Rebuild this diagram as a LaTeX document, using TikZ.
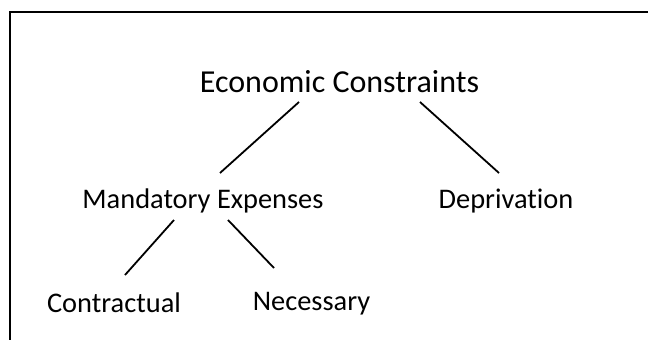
\documentclass[tikz,border=0pt]{standalone}
\usepackage{fontspec}
\setmainfont{Carlito}[Ligatures=NoCommon]
\usepackage{tikz}
\usetikzlibrary{arrows,shapes}
\tikzstyle{word}=[inner sep=0pt
,anchor=base
,font=\fontsize{28.4}{34}\selectfont
]
\tikzstyle{topword}=[word, font=\fontsize{32}{38}\selectfont]
\tikzstyle{edge} = [draw,line width=1.8pt,-]
\tikzstyle{frame} = [draw,line width=1.6pt]

\begin{document}
\begin{tikzpicture}[x=1pt,y=-1pt]
    \useasboundingbox (0,0) rectangle (648,340);
    % The box round the tree, only its top and left side show
    \path[frame] (10,340) -- (10,12) -- (648,12);

    % First we draw the words
    \node[topword] (econ) at (339.5,92) {Economic Constraints};
    \foreach \pos/\name/\text in {{(203,208)/mand/Mandatory Expenses}, {(506,208)/depr/Deprivation}, {(114,312)/contr/Contractual}, {(311.5,310)/nec/Necessary}}
        \node[word] (\name) at \pos {\text};

    % Connect the words with lines
    \foreach \source/\sshift/\dest/\dshift in {econ/{(-40.5,10)}/mand/{(17,-35)}, econ/{(80.5,10)}/depr/{(-7,-35)}, mand/{(-29,12)}/contr/{(11,-37)}, mand/{(25,12)}/nec/{(-37.5,-42)}}
        \path[edge] ([shift=\sshift]\source.base) -- ([shift=\dshift]\dest.base);

\end{tikzpicture}
\end{document}
